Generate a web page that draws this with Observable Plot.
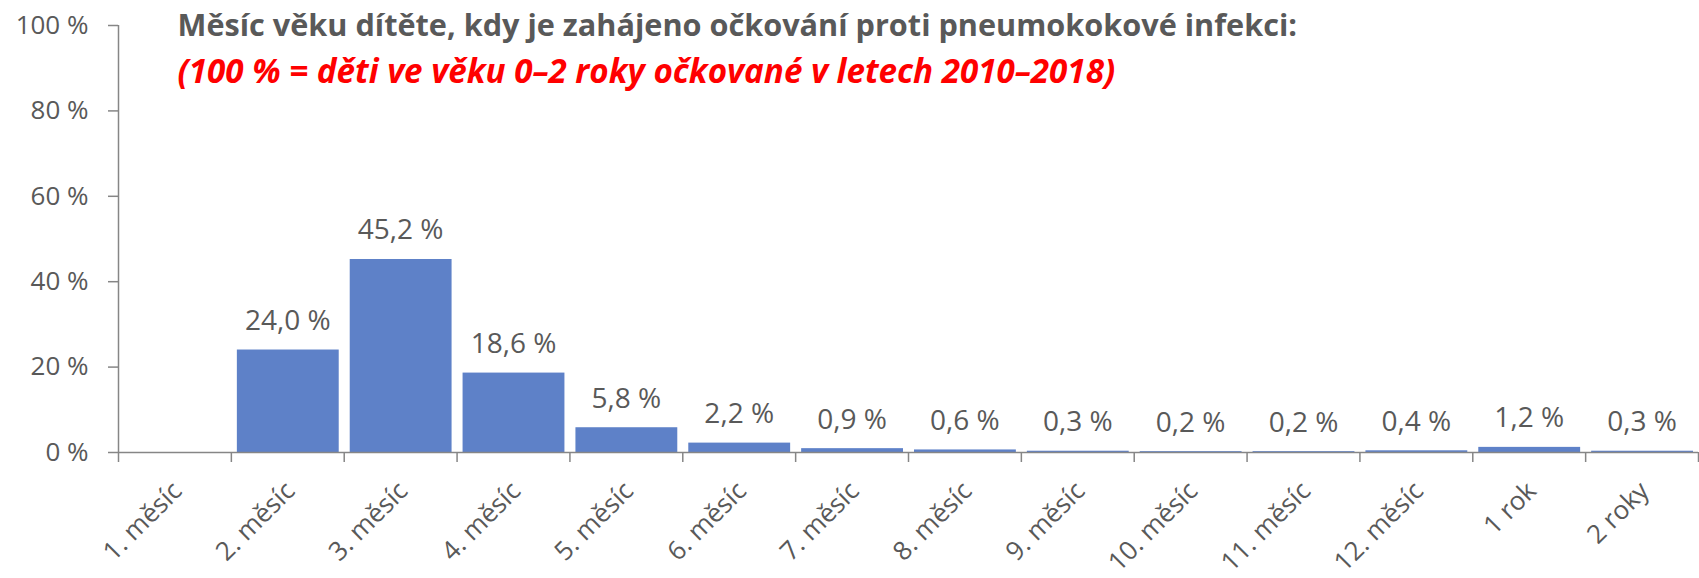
<!DOCTYPE html>
<html>
<head>
<meta charset="utf-8">
<script src="https://cdn.jsdelivr.net/npm/d3@7"></script>
<script src="https://cdn.jsdelivr.net/npm/@observablehq/plot@0.6"></script>
<style>
  html, body { margin: 0; padding: 0; background: #ffffff; }
  #chart { width: 1699px; height: 578px; }
</style>
</head>
<body>
<div id="chart"></div>
<script>
// ---- data ----
const categories = ["1. měsíc", "2. měsíc", "3. měsíc", "4. měsíc", "5. měsíc", "6. měsíc", "7. měsíc",
  "8. měsíc", "9. měsíc", "10. měsíc", "11. měsíc", "12. měsíc", "1 rok", "2 roky"];
const values = [null, 24.0, 45.2, 18.6, 5.8, 2.2, 0.9, 0.6, 0.3, 0.2, 0.2, 0.4, 1.2, 0.3];
const yTicks = [0, 20, 40, 60, 80, 100];
const titleText = "Měsíc věku dítěte, kdy je zahájeno očkování proti pneumokokové infekci:";
const subtitleText = "(100 % = děti ve věku 0–2 roky očkované v letech 2010–2018)";

// ---- derived table ----
const rows = categories.map((c, i) => ({category: c, index: i, value: values[i]}));
const barRows = rows.filter(d => d.value != null);
const fmt = v => v.toFixed(1).replace(".", ",") + " %";

const gray = "#595959";
const axisGray = "#868686";
const barColor = "#5E81C8";

const chart = Plot.plot({
  width: 1699,
  height: 578,
  marginLeft: 118,
  marginRight: 1,
  marginTop: 25,
  marginBottom: 126,
  style: {fontFamily: "'Open Sans', sans-serif", background: "#ffffff", color: gray},
  x: {type: "linear", domain: [0, categories.length], axis: null, label: null},
  y: {domain: [0, 100], axis: null, label: null},
  marks: [
    Plot.rectY(barRows, {
      x1: d => d.index, x2: d => d.index + 1, y: "value",
      insetLeft: 6, insetRight: 5, fill: barColor
    }),
    Plot.ruleY([0], {stroke: axisGray, strokeWidth: 1.5}),
    Plot.ruleX([0], {stroke: axisGray, strokeWidth: 1.5}),
    Plot.axisY(yTicks, {
      label: null,
      tickSize: 10, tickPadding: 20, tickFormat: d => d + " %",
      fontSize: 26, stroke: axisGray, strokeWidth: 1.5, fill: gray
    }),
    Plot.axisX(d3.range(categories.length + 1), {
      label: null,
      tickSize: 10, tickFormat: () => "", stroke: axisGray, strokeWidth: 1.5
    }),
    Plot.axisX(rows.map(d => d.index + 0.5), {
      label: null,
      tickSize: 0, tickPadding: 0,
      tickFormat: v => categories[Math.round(v - 0.5)],
      tickRotate: -45, textAnchor: "end", lineAnchor: "bottom",
      dx: 8.5, dy: 40, fontSize: 26, fill: gray
    }),
    Plot.text(barRows, {
      x: d => d.index + 0.5, y: "value", text: d => fmt(d.value),
      lineAnchor: "bottom", dy: -20, fontSize: 28, fill: gray
    }),
    Plot.text([titleText], {
      frameAnchor: "top-left", textAnchor: "start", lineAnchor: "bottom",
      dx: 59, dy: 10, fontSize: 29, fontWeight: "bold", fill: gray
    }),
    Plot.text([subtitleText], {
      frameAnchor: "top-left", textAnchor: "start", lineAnchor: "bottom",
      dx: 59, dy: 57, fontSize: 29, fontWeight: "bold", fontStyle: "italic", fill: "#FF0000"
    })
  ]
});

document.getElementById("chart").appendChild(chart);

// fit title widths to the reference widths
const fits = [[titleText, 1120], [subtitleText, 938]];
chart.querySelectorAll("text").forEach(t => {
  fits.forEach(([s, w]) => {
    if (t.textContent === s) {
      const measured = t.getComputedTextLength();
      if (measured > 0) t.setAttribute("font-size", (29 * w / measured).toFixed(2));
    }
  });
});
</script>
</body>
</html>
